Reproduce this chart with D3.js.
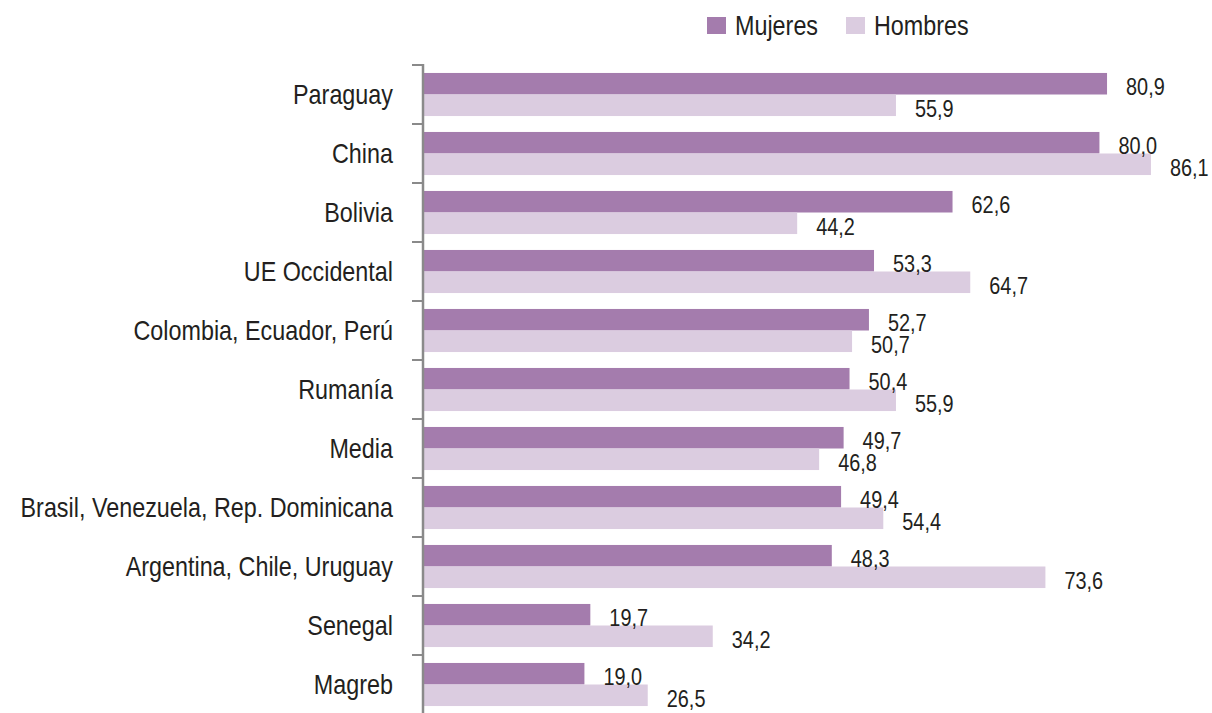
<!DOCTYPE html>
<html>
<head>
<meta charset="utf-8">
<script src="https://cdn.jsdelivr.net/npm/d3@7"></script>
<style>
  html, body { margin: 0; padding: 0; background: #fff; }
  svg text { font-family: "Liberation Sans", Arial, sans-serif; fill: #231f20; }
</style>
</head>
<body>
<svg id="chart" width="1212" height="713"></svg>
<script>
// Data
const categories = [
  "Paraguay", "China", "Bolivia", "UE Occidental", "Colombia, Ecuador, Perú",
  "Rumanía", "Media", "Brasil, Venezuela, Rep. Dominicana",
  "Argentina, Chile, Uruguay", "Senegal", "Magreb"
];
const seriesNames = ["Mujeres", "Hombres"];
const mujeres = [80.9, 80.0, 62.6, 53.3, 52.7, 50.4, 49.7, 49.4, 48.3, 19.7, 19.0];
const hombres = [55.9, 86.1, 44.2, 64.7, 50.7, 55.9, 46.8, 54.4, 73.6, 34.2, 26.5];

const colors = { Mujeres: "#a47cad", Hombres: "#dbcce0" };

const svg = d3.select("#chart");
const AXIS_X = 423;
const SQUEEZE = 0.865; // no condensed face installed, so squeeze the glyphs

// move x/y into a transform so the text is squeezed around its anchor
function condense(sel) {
  sel.each(function() {
    const t = d3.select(this);
    const tx = +t.attr("x") || 0;
    const ty = +t.attr("y") || 0;
    t.attr("x", 0).attr("y", 0)
     .attr("transform", `translate(${tx},${ty}) scale(${SQUEEZE},1)`);
  });
}

const x = d3.scaleLinear().domain([0, 100]).range([AXIS_X + 1, AXIS_X + 1 + 844.3]);
const y = d3.scaleBand().domain(categories).range([65, 714]).paddingInner(0.27).paddingOuter(0.135);
const ySub = d3.scaleBand().domain(seriesNames).range([0, y.bandwidth()]);

const fmt = v => v.toFixed(1).replace(".", ",");

const rows = categories.map((c, i) => ({ cat: c, Mujeres: mujeres[i], Hombres: hombres[i] }));

// bars
const groups = svg.append("g").selectAll("g")
  .data(rows)
  .enter().append("g")
  .attr("transform", d => `translate(0,${y(d.cat)})`);

groups.selectAll("rect")
  .data(d => seriesNames.map(s => ({ s, v: d[s] })))
  .enter().append("rect")
  .attr("x", x(0))
  .attr("y", d => ySub(d.s))
  .attr("width", d => x(d.v) - x(0))
  .attr("height", ySub.bandwidth())
  .attr("fill", d => colors[d.s]);

groups.selectAll("text.val")
  .data(d => seriesNames.map(s => ({ s, v: d[s] })))
  .enter().append("text")
  .attr("class", "val")
  .attr("x", d => x(d.v) + 19)
  .attr("y", d => ySub(d.s) + ySub.bandwidth() / 2 + 3.5)
  .attr("dy", "0.35em")
  .style("font-size", "23px")
  .text(d => fmt(d.v))
  .call(condense);

// category axis
const yAxis = d3.axisLeft(y).tickSize(0).tickPadding(30);
const axisG = svg.append("g")
  .attr("transform", `translate(${AXIS_X},0)`)
  .call(yAxis);
axisG.select(".domain").remove();
axisG.selectAll("text")
  .style("font-size", "27px")
  .attr("fill", null)
  .attr("dy", "0.34em")
  .call(condense);

// boundary ticks and axis line
const bounds = categories.map(c => y(c) - y.step() * y.paddingInner() / 2);
svg.append("g").selectAll("line")
  .data(bounds)
  .enter().append("line")
  .attr("x1", AXIS_X - 11).attr("x2", AXIS_X)
  .attr("y1", d => d).attr("y2", d => d)
  .attr("stroke", "#8a8a8a").attr("stroke-width", 2);

svg.append("line")
  .attr("x1", AXIS_X).attr("x2", AXIS_X)
  .attr("y1", bounds[0] - 1).attr("y2", 713)
  .attr("stroke", "#8a8a8a").attr("stroke-width", 2.5);

// legend
const legend = svg.append("g").attr("transform", "translate(707,17)");
const legendX = { Mujeres: 0, Hombres: 139 };
seriesNames.forEach(s => {
  const g = legend.append("g").attr("transform", `translate(${legendX[s]},0)`);
  g.append("rect").attr("width", 19).attr("height", 17).attr("fill", colors[s]);
  g.append("text").attr("x", 28).attr("y", 18).style("font-size", "27px").text(s).call(condense);
});
</script>
</body>
</html>
